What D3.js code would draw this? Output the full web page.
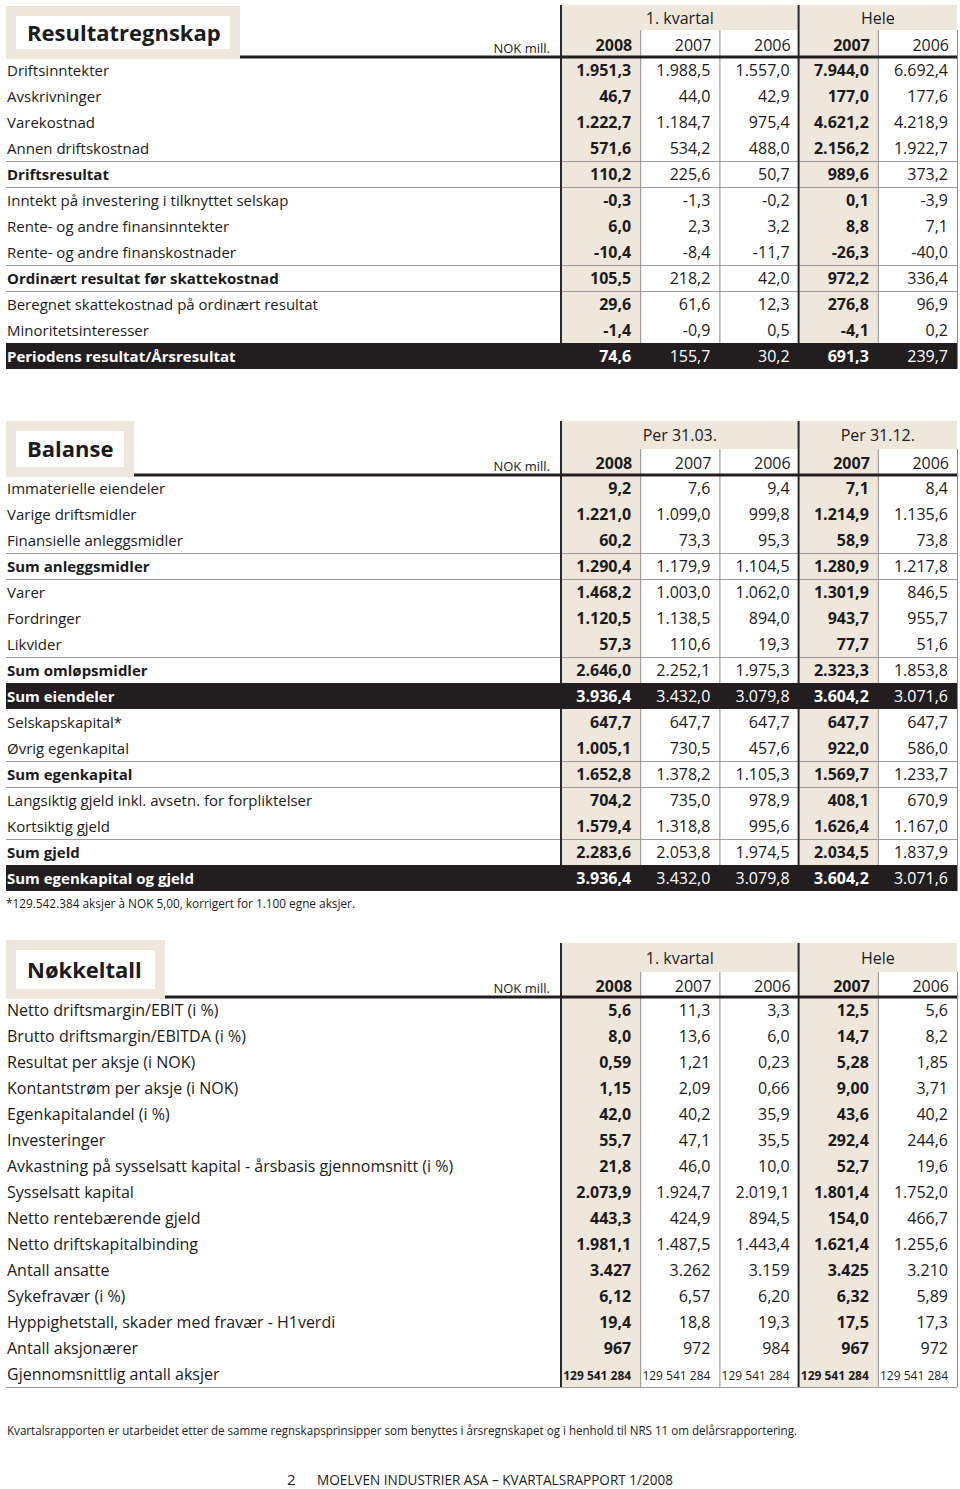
<!DOCTYPE html>
<html>
<head>
<meta charset="utf-8">
<script src="https://cdn.jsdelivr.net/npm/d3@7"></script>
<style>
  body { margin: 0; background: #fff; }
  svg { display: block; }
  text { font-family: "Open Sans", "Noto Sans", sans-serif; fill: #1b1b1b; }
</style>
</head>
<body>
<div id="chart"></div>
<script>
// ---- Resultatregnskap ----
const resLabels = ["Driftsinntekter", "Avskrivninger", "Varekostnad", "Annen driftskostnad", "Driftsresultat",
  "Inntekt på investering i tilknyttet selskap", "Rente- og andre finansinntekter", "Rente- og andre finanskostnader",
  "Ordinært resultat før skattekostnad", "Beregnet skattekostnad på ordinært resultat", "Minoritetsinteresser",
  "Periodens resultat/Årsresultat"];
const resKind = ["n", "n", "n", "n", "sum", "n", "n", "n", "sum", "n", "n", "total"];
const resQ2008 = [1951.3, 46.7, 1222.7, 571.6, 110.2, -0.3, 6.0, -10.4, 105.5, 29.6, -1.4, 74.6];
const resQ2007 = [1988.5, 44.0, 1184.7, 534.2, 225.6, -1.3, 2.3, -8.4, 218.2, 61.6, -0.9, 155.7];
const resQ2006 = [1557.0, 42.9, 975.4, 488.0, 50.7, -0.2, 3.2, -11.7, 42.0, 12.3, 0.5, 30.2];
const resH2007 = [7944.0, 177.0, 4621.2, 2156.2, 989.6, 0.1, 8.8, -26.3, 972.2, 276.8, -4.1, 691.3];
const resH2006 = [6692.4, 177.6, 4218.9, 1922.7, 373.2, -3.9, 7.1, -40.0, 336.4, 96.9, 0.2, 239.7];

// ---- Balanse ----
const balLabels = ["Immaterielle eiendeler", "Varige driftsmidler", "Finansielle anleggsmidler", "Sum anleggsmidler",
  "Varer", "Fordringer", "Likvider", "Sum omløpsmidler", "Sum eiendeler", "Selskapskapital*", "Øvrig egenkapital",
  "Sum egenkapital", "Langsiktig gjeld inkl. avsetn. for forpliktelser", "Kortsiktig gjeld", "Sum gjeld",
  "Sum egenkapital og gjeld"];
const balKind = ["n", "n", "n", "sum", "n", "n", "n", "sum", "total", "n", "n", "sum", "n", "n", "sum", "total"];
const balM2008 = [9.2, 1221.0, 60.2, 1290.4, 1468.2, 1120.5, 57.3, 2646.0, 3936.4, 647.7, 1005.1, 1652.8, 704.2, 1579.4, 2283.6, 3936.4];
const balM2007 = [7.6, 1099.0, 73.3, 1179.9, 1003.0, 1138.5, 110.6, 2252.1, 3432.0, 647.7, 730.5, 1378.2, 735.0, 1318.8, 2053.8, 3432.0];
const balM2006 = [9.4, 999.8, 95.3, 1104.5, 1062.0, 894.0, 19.3, 1975.3, 3079.8, 647.7, 457.6, 1105.3, 978.9, 995.6, 1974.5, 3079.8];
const balD2007 = [7.1, 1214.9, 58.9, 1280.9, 1301.9, 943.7, 77.7, 2323.3, 3604.2, 647.7, 922.0, 1569.7, 408.1, 1626.4, 2034.5, 3604.2];
const balD2006 = [8.4, 1135.6, 73.8, 1217.8, 846.5, 955.7, 51.6, 1853.8, 3071.6, 647.7, 586.0, 1233.7, 670.9, 1167.0, 1837.9, 3071.6];

// ---- Nøkkeltall ----
const keyLabels = ["Netto driftsmargin/EBIT (i %)", "Brutto driftsmargin/EBITDA (i %)", "Resultat per aksje (i NOK)",
  "Kontantstrøm per aksje (i NOK)", "Egenkapitalandel (i %)", "Investeringer",
  "Avkastning på sysselsatt kapital - årsbasis gjennomsnitt (i %)", "Sysselsatt kapital", "Netto rentebærende gjeld",
  "Netto driftskapitalbinding", "Antall ansatte", "Sykefravær (i %)", "Hyppighetstall, skader med fravær - H1verdi",
  "Antall aksjonærer", "Gjennomsnittlig antall aksjer"];
const keyKind = keyLabels.map(() => "n");
const keyFormats = [",.1f", ",.1f", ".2f", ".2f", ",.1f", ",.1f", ",.1f", ",.1f", ",.1f", ",.1f", ",d", ".2f", ",.1f", ",d", "space"];
const keyQ2008 = [5.6, 8.0, 0.59, 1.15, 42.0, 55.7, 21.8, 2073.9, 443.3, 1981.1, 3427, 6.12, 19.4, 967, 129541284];
const keyQ2007 = [11.3, 13.6, 1.21, 2.09, 40.2, 47.1, 46.0, 1924.7, 424.9, 1487.5, 3262, 6.57, 18.8, 972, 129541284];
const keyQ2006 = [3.3, 6.0, 0.23, 0.66, 35.9, 35.5, 10.0, 2019.1, 894.5, 1443.4, 3159, 6.20, 19.3, 984, 129541284];
const keyH2007 = [12.5, 14.7, 5.28, 9.00, 43.6, 292.4, 52.7, 1801.4, 154.0, 1621.4, 3425, 6.32, 17.5, 967, 129541284];
const keyH2006 = [5.6, 8.2, 1.85, 3.71, 40.2, 244.6, 19.6, 1752.0, 466.7, 1255.6, 3210, 5.89, 17.3, 972, 129541284];

const yearLabels = ["2008", "2007", "2006", "2007", "2006"];
const colKeys = ["c0", "c1", "c2", "c3", "c4"];
const boldCols = ["c0", "c3"];

const W = 960, H = 1489;
const beige = "#efe7dc", dark = "#221e1f";

const svg = d3.select("#chart").append("svg").attr("width", W).attr("height", H);

const nok = d3.formatLocale({ decimal: ",", thousands: ".", grouping: [3], currency: ["", ""], minus: "-" });
const spaced = d3.formatLocale({ decimal: ",", thousands: " ", grouping: [3], currency: ["", ""], minus: "-" });
const fmt = spec => spec === "space" ? spaced.format(",d") : nok.format(spec);

const x = d3.scaleBand().domain(colKeys).range([561, 957]);

function drawTable(t) {
  const g = svg.append("g");
  const n = t.labels.length;
  const rowH = 26;
  const y = d3.scaleBand().domain(d3.range(n)).range([t.bodyTop, t.bodyTop + n * rowH]);
  const bottom = t.bodyTop + n * rowH;
  const left = x.range()[0], right = x.range()[1];

  // title box
  const boxH = t.bodyTop + 2 - t.boxTop;
  g.append("rect").attr("x", 6).attr("y", t.boxTop).attr("width", t.boxRight - 6).attr("height", boxH).attr("fill", beige);
  g.append("rect").attr("x", 16).attr("y", t.boxTop + 10).attr("width", t.boxRight - 26).attr("height", boxH - 20).attr("fill", "#fff");
  g.append("text").attr("x", 27).attr("y", t.boxTop + 10 + (boxH - 20) / 2 + 8)
    .attr("font-size", 22).attr("font-weight", 700).text(t.title);

  // beige header and highlighted columns
  g.append("rect").attr("x", left).attr("y", t.headTop).attr("width", right - left)
    .attr("height", t.groupBottom - t.headTop).attr("fill", beige);
  g.selectAll("rect.col").data(boldCols).join("rect").attr("class", "col")
    .attr("x", d => x(d)).attr("y", t.groupBottom).attr("width", x.bandwidth())
    .attr("height", bottom - t.groupBottom).attr("fill", beige);

  // thin separators above/below sum rows
  const seps = [];
  t.kinds.forEach((k, i) => {
    if (k === "sum") {
      seps.push(y(i));
      if (t.kinds[i + 1] !== "total") seps.push(y(i) + rowH);
    }
  });
  if (t.bottomLine) seps.push(bottom);
  g.selectAll("line.sep").data(seps).join("line").attr("class", "sep")
    .attr("x1", 6).attr("x2", right).attr("y1", d => d + 0.5).attr("y2", d => d + 0.5)
    .attr("stroke", "#9d9d9d").attr("stroke-width", 1);

  // vertical lines
  const thin = ["c1", "c2", "c4"].map(d => x(d)).concat([right]);
  g.selectAll("line.vthin").data(thin).join("line").attr("class", "vthin")
    .attr("x1", d => d + 0.5).attr("x2", d => d + 0.5).attr("y1", t.groupBottom).attr("y2", bottom)
    .attr("stroke", "#8a8a8a").attr("stroke-width", 1);
  g.selectAll("line.vthick").data([left, x("c3")]).join("line").attr("class", "vthick")
    .attr("x1", d => d).attr("x2", d => d).attr("y1", t.headTop).attr("y2", bottom)
    .attr("stroke", "#2a2a2a").attr("stroke-width", 2);

  // heavy rule under header
  g.append("line").attr("x1", t.boxRight).attr("x2", right).attr("y1", t.bodyTop).attr("y2", t.bodyTop)
    .attr("stroke", dark).attr("stroke-width", 3);

  // dark total bands
  const totals = d3.range(n).filter(i => t.kinds[i] === "total");
  g.selectAll("rect.total").data(totals).join("rect").attr("class", "total")
    .attr("x", 6).attr("y", i => y(i)).attr("width", right - 6).attr("height", rowH).attr("fill", dark);

  // header text
  g.append("text").attr("x", 550).attr("y", t.bodyTop - 4).attr("text-anchor", "end")
    .attr("font-size", 13).text("NOK mill.");
  const groupCenters = [(left + x("c3")) / 2, (x("c3") + right) / 2];
  g.selectAll("text.grp").data(t.groups).join("text").attr("class", "grp")
    .attr("x", (d, i) => groupCenters[i]).attr("y", (t.headTop + t.groupBottom) / 2 + 6)
    .attr("text-anchor", "middle").attr("font-size", 16).text(d => d);
  g.selectAll("text.yr").data(colKeys).join("text").attr("class", "yr")
    .attr("x", d => x(d) + x.bandwidth() - 8).attr("y", (t.groupBottom + t.bodyTop) / 2 + 7)
    .attr("text-anchor", "end").attr("font-size", 16)
    .attr("font-weight", d => boldCols.includes(d) ? 700 : 400)
    .text((d, i) => yearLabels[i]);

  // row labels
  g.selectAll("text.lbl").data(t.labels).join("text").attr("class", "lbl")
    .attr("x", 7).attr("y", (d, i) => y(i) + 19)
    .attr("font-size", t.labelSize)
    .attr("font-weight", (d, i) => t.kinds[i] !== "n" ? 700 : 400)
    .style("fill", (d, i) => t.kinds[i] === "total" ? "#fff" : null)
    .text(d => d);

  // values
  const cells = [];
  colKeys.forEach((c, ci) => {
    t.series[ci].forEach((v, ri) => cells.push({ c, ri, v }));
  });
  g.selectAll("text.val").data(cells).join("text").attr("class", "val")
    .attr("x", d => x(d.c) + x.bandwidth() - 9).attr("y", d => y(d.ri) + 19)
    .attr("text-anchor", "end")
    .attr("font-size", d => t.formats[d.ri] === "space" ? 12 : 16)
    .attr("font-weight", d => boldCols.includes(d.c) ? 700 : 400)
    .style("fill", d => t.kinds[d.ri] === "total" ? "#fff" : null)
    .text(d => fmt(t.formats[d.ri])(d.v));
}

drawTable({
  title: "Resultatregnskap", boxTop: 6, boxRight: 240, headTop: 5, groupBottom: 30, bodyTop: 57,
  groups: ["1. kvartal", "Hele"], labels: resLabels, kinds: resKind,
  series: [resQ2008, resQ2007, resQ2006, resH2007, resH2006],
  formats: resLabels.map(() => ",.1f"), labelSize: 15
});

drawTable({
  title: "Balanse", boxTop: 421, boxRight: 134, headTop: 421, groupBottom: 449, bodyTop: 475,
  groups: ["Per 31.03.", "Per 31.12."], labels: balLabels, kinds: balKind,
  series: [balM2008, balM2007, balM2006, balD2007, balD2006],
  formats: balLabels.map(() => ",.1f"), labelSize: 15
});

drawTable({
  title: "Nøkkeltall", boxTop: 940, boxRight: 165, headTop: 943, groupBottom: 972, bodyTop: 997,
  groups: ["1. kvartal", "Hele"], labels: keyLabels, kinds: keyKind,
  series: [keyQ2008, keyQ2007, keyQ2006, keyH2007, keyH2006],
  formats: keyFormats, labelSize: 16, bottomLine: true
});

// notes
svg.append("text").attr("x", 6).attr("y", 908).attr("font-size", 12)
  .attr("textLength", 349).attr("lengthAdjust", "spacingAndGlyphs")
  .text("*129.542.384 aksjer à NOK 5,00, korrigert for 1.100 egne aksjer.");
svg.append("text").attr("x", 7).attr("y", 1435).attr("font-size", 12)
  .attr("textLength", 790).attr("lengthAdjust", "spacingAndGlyphs")
  .text("Kvartalsrapporten er utarbeidet etter de samme regnskapsprinsipper som benyttes i årsregnskapet og i henhold til NRS 11 om delårsrapportering.");
svg.append("text").attr("x", 287).attr("y", 1485).attr("font-size", 15).text("2");
svg.append("text").attr("x", 317).attr("y", 1485).attr("font-size", 15)
  .attr("textLength", 356).attr("lengthAdjust", "spacingAndGlyphs")
  .text("MOELVEN INDUSTRIER ASA – KVARTALSRAPPORT 1/2008");
</script>
</body>
</html>
